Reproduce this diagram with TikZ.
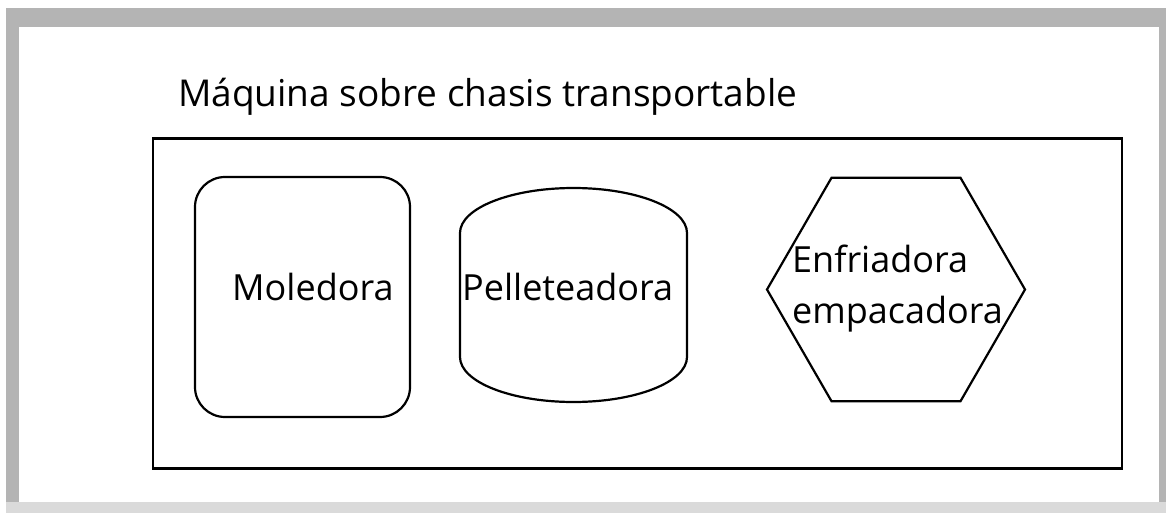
\documentclass[tikz,border=0pt]{standalone}
\usepackage{fontspec}
\setmainfont{Open Sans}
\usetikzlibrary{shapes.geometric}

\definecolor{framegray}{RGB}{180,180,180}
\definecolor{framelight}{RGB}{218,218,218}

\tikzset{
  part/.style={draw, line width=2.2pt, inner sep=0pt},
  txt/.style={inner sep=0pt, anchor=base west, font=\fontsize{36}{51}\selectfont},
}

\begin{document}
\begin{tikzpicture}[x=1pt, y=-1pt]

  % Frame
  \fill[white] (0,0) rectangle (1166,513);
  \fill[framegray] (6,8) rectangle (1166,513);
  \fill[framelight] (6,502) rectangle (1166,513);
  \fill[white] (19,27) rectangle (1159,502);
  \useasboundingbox (0,0) rectangle (1166,513);

  % Chassis
  \node[inner sep=0pt, anchor=base west, font=\fontsize{37}{44}\selectfont] (title) at (178,107) {Máquina sobre chasis transportable};
  \node[part, minimum width=969pt, minimum height=330pt] (chasis) at (637.5,303.5) {};

  % Machines
  \node[part, rounded corners=30pt, minimum width=215pt, minimum height=240pt] (mol) at (302.5,297) {};
  \node[txt] (moltext) at (232,300) {Moledora};

  \draw[line width=2.2pt] (460,357) -- (460,233) arc[start angle=180, end angle=360, x radius=113.5, y radius=45]
    -- (687,357) arc[start angle=0, end angle=180, x radius=113.5, y radius=45] -- cycle;
  \node[txt] (pel) at (462,300) {Pelleteadora};

  \node[part, regular polygon, regular polygon sides=6, minimum size=258pt] (enf) at (896,289.5) {};
  \node[txt, align=left] (enftext) at (792,323) {Enfriadora\\empacadora};

\end{tikzpicture}
\end{document}
